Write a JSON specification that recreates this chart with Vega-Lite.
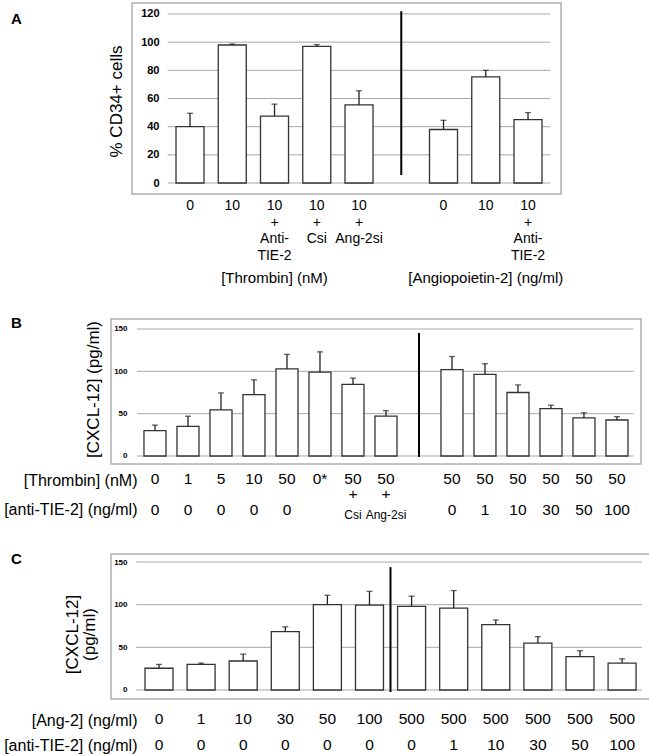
{
  "$schema": "https://vega.github.io/schema/vega-lite/v6.json",
  "background": "white",
  "padding": {"left": 2, "top": 2, "right": 0, "bottom": 0},
  "spacing": 30,
  "config": {
    "font": "Liberation Sans",
    "view": {"stroke": "#b0b0b0", "strokeWidth": 1.5},
    "axis": {"labelColor": "#000", "titleColor": "#000", "grid": false, "domain": false, "ticks": false, "tickSize": 0, "labelAngle": 0, "labelOverlap": false, "labelLimit": 400, "titleFontWeight": "normal", "labelFont": "Liberation Sans", "titleFont": "Liberation Sans"},
    "title": {"color": "#000"}
  },
  "vconcat": [
    {
      "width": 450, "height": 191,
      "view": {"stroke": null},
      "title": {"text": "A", "anchor": "start", "frame": "group", "orient": "top", "offset": 0, "dx": -100, "dy": 37, "baseline": "alphabetic", "fontSize": 15, "fontWeight": "bold", "font": "Liberation Sans"},
      "data": {"values": [
        {"k": "A0|0|", "v": 40, "hi": 49.5},
        {"k": "A1|10|", "v": 98, "hi": 98.7},
        {"k": "A2|10~+~Anti-~TIE-2|[Thrombin] (nM)", "v": 47.5, "hi": 56},
        {"k": "A3|10~+~Csi|", "v": 97, "hi": 98.3},
        {"k": "A4|10~+~Ang-2si|", "v": 55.5, "hi": 65.5},
        {"k": "A5||", "d1": 5.7, "d2": 122},
        {"k": "A6|0|", "v": 38, "hi": 44.5},
        {"k": "A7|10|[Angiopoietin-2] (ng/ml)", "v": 75.3, "hi": 80},
        {"k": "A8|10~+~Anti-~TIE-2|", "v": 45, "hi": 50}
      ]},
      "resolve": {"axis": {"x": "independent"}},
      "layer": [
        {
          "data": {"values": [{"g": 0}, {"g": 20}, {"g": 40}, {"g": 60}, {"g": 80}, {"g": 100}, {"g": 120}]},
          "mark": {"type": "rule", "color": "#a8a8a8", "strokeWidth": 1},
          "encoding": {
            "x": {"datum": "A0|0|", "type": "nominal", "bandPosition": -0.3, "axis": null},
            "x2": {"datum": "A8|10~+~Anti-~TIE-2|", "bandPosition": 1.3},
            "y": {"field": "g", "type": "quantitative", "scale": {"domain": [-7.81, 127.81], "nice": false, "zero": false},
              "axis": {"orient": "left", "values": [0, 20, 40, 60, 80, 100, 120], "tickCount": 10, "labelOverlap": false, "offset": -57, "labelPadding": 9, "labelFontSize": 11, "labelFontWeight": "bold", "title": "% CD34+ cells", "titleFontSize": 17, "titleX": -52, "titleY": 98, "titleAngle": -90, "titleAlign": "center", "titleBaseline": "middle"}}
          }
        },
        {
          "data": {"values": [{"box": "A"}]},
          "mark": {"type": "rect", "filled": false, "fill": null, "stroke": "#b0b0b0", "strokeWidth": 1.5},
          "encoding": {
            "x": {"datum": "A0|0|", "type": "nominal", "bandPosition": -1.571, "axis": null},
            "x2": {"datum": "A8|10~+~Anti-~TIE-2|", "bandPosition": 1.679},
            "y": {"datum": 127.81, "type": "quantitative"},
            "y2": {"datum": -7.81}
          }
        },
        {
          "mark": {"type": "bar", "fill": "white", "stroke": "#333", "strokeWidth": 1.3},
          "encoding": {
            "x": {"field": "k", "type": "nominal", "scale": {"paddingInner": 0.337, "paddingOuter": 0.994, "align": 0.774},
              "axis": {"orient": "bottom", "labelExpr": "split(split(datum.label,'|')[1],'~')", "labelFontSize": 14, "labelLineHeight": 16.7, "labelPadding": 4.5, "labelBaseline": "top", "title": null}},
            "y": {"field": "v", "type": "quantitative"}
          }
        },
        {
          "mark": {"type": "rule", "color": "#222", "strokeWidth": 1.3},
          "encoding": {
            "x": {"field": "k", "type": "nominal",
              "axis": {"orient": "bottom", "labelExpr": "split(datum.label,'|')[2]", "labelFontSize": 15, "labelPadding": 76, "labelBaseline": "top", "title": null}},
            "y": {"field": "v", "type": "quantitative"},
            "y2": {"field": "hi"}
          }
        },
        {
          "mark": {"type": "tick", "color": "#222", "size": 6, "thickness": 1.3, "orient": "horizontal"},
          "encoding": {
            "x": {"field": "k", "type": "nominal", "axis": null},
            "y": {"field": "hi", "type": "quantitative"}
          }
        },
        {
          "transform": [{"filter": "isValid(datum.d1)"}],
          "mark": {"type": "rule", "color": "#000", "strokeWidth": 2},
          "encoding": {
            "x": {"field": "k", "type": "nominal", "axis": null},
            "y": {"field": "d1", "type": "quantitative"},
            "y2": {"field": "d2"}
          }
        }
      ]
    },
    {
      "width": 530, "height": 145,
      "title": {"text": "B", "anchor": "start", "frame": "group", "orient": "top", "offset": 0, "dx": -100, "dy": 24, "baseline": "alphabetic", "fontSize": 15, "fontWeight": "bold", "font": "Liberation Sans"},
      "data": {"values": [
        {"k": "B00|0|0", "v": 30, "hi": 36.5},
        {"k": "B01|1|0", "v": 35, "hi": 47},
        {"k": "B02|5|0", "v": 54.5, "hi": 74.5},
        {"k": "B03|10|0", "v": 72.5, "hi": 90},
        {"k": "B04|50|0", "v": 103, "hi": 120},
        {"k": "B05|0*|", "v": 99, "hi": 123},
        {"k": "B06|50~+|Csi", "v": 84.5, "hi": 92},
        {"k": "B07|50~+|Ang-2si", "v": 47, "hi": 53.5},
        {"k": "B08||", "d1": -1.2, "d2": 145.3},
        {"k": "B09|50|0", "v": 102, "hi": 117.5},
        {"k": "B10|50|1", "v": 96.5, "hi": 109},
        {"k": "B11|50|10", "v": 75, "hi": 84},
        {"k": "B12|50|30", "v": 56, "hi": 60},
        {"k": "B13|50|50", "v": 45, "hi": 51},
        {"k": "B14|50|100", "v": 42.5, "hi": 46.5}
      ]},
      "resolve": {"axis": {"x": "independent"}},
      "layer": [
        {
          "data": {"values": [{"g": 0}, {"g": 50}, {"g": 100}, {"g": 150}]},
          "mark": {"type": "rule", "color": "#a8a8a8", "strokeWidth": 1},
          "encoding": {
            "x": {"datum": "B00|0|0", "type": "nominal", "bandPosition": -0.32, "axis": null},
            "x2": {"datum": "B14|50|100", "bandPosition": 1.25},
            "y": {"field": "g", "type": "quantitative", "scale": {"domain": [-9.45, 161.81], "nice": false, "zero": false},
              "axis": {"orient": "left", "values": [0, 50, 100, 150], "tickCount": 10, "labelOverlap": false, "offset": -26, "labelPadding": 10, "labelFontSize": 8, "labelFontWeight": "bold", "title": "[CXCL-12] (pg/ml)", "titleFontSize": 17, "titleX": -44, "titleY": 70, "titleAngle": -90, "titleAlign": "center", "titleBaseline": "middle"}}
          }
        },
        {
          "mark": {"type": "bar", "fill": "white", "stroke": "#333", "strokeWidth": 1.3},
          "encoding": {
            "x": {"field": "k", "type": "nominal", "scale": {"paddingInner": 0.333, "paddingOuter": 0.697, "align": 0.717},
              "axis": {"orient": "bottom", "labelExpr": "split(split(datum.label,'|')[1],'~')", "labelFontSize": 15.5, "labelLineHeight": 14.5, "labelPadding": 7.5, "labelBaseline": "top",
                "title": "[Thrombin] (nM)", "titleFontSize": 16, "titleX": 26, "titleY": 16, "titleAlign": "right", "titleBaseline": "middle", "titleAngle": 0}},
            "y": {"field": "v", "type": "quantitative"}
          }
        },
        {
          "mark": {"type": "rule", "color": "#222", "strokeWidth": 1.3},
          "encoding": {
            "x": {"field": "k", "type": "nominal",
              "axis": {"orient": "bottom", "labelExpr": "split(datum.label,'|')[2]", "labelFontSize": {"condition": {"test": "indexof(datum.value,'si') >= 0", "value": 12}, "value": 15.5}, "labelBaseline": {"condition": {"test": "indexof(datum.value,'si') >= 0", "value": "top"}, "value": "middle"}, "labelPadding": 45,
                "title": "[anti-TIE-2] (ng/ml)", "titleFontSize": 16, "titleX": 26, "titleY": 45, "titleAlign": "right", "titleBaseline": "middle", "titleAngle": 0}},
            "y": {"field": "v", "type": "quantitative"},
            "y2": {"field": "hi"}
          }
        },
        {
          "mark": {"type": "tick", "color": "#222", "size": 6, "thickness": 1.3, "orient": "horizontal"},
          "encoding": {
            "x": {"field": "k", "type": "nominal", "axis": null},
            "y": {"field": "hi", "type": "quantitative"}
          }
        },
        {
          "transform": [{"filter": "isValid(datum.d1)"}],
          "mark": {"type": "rule", "color": "#000", "strokeWidth": 2},
          "encoding": {
            "x": {"field": "k", "type": "nominal", "axis": null},
            "y": {"field": "d1", "type": "quantitative"},
            "y2": {"field": "d2"}
          }
        }
      ]
    },
    {
      "width": 540, "height": 145,
      "title": {"text": "C", "anchor": "start", "frame": "group", "orient": "top", "offset": 0, "dx": -100, "dy": 25, "baseline": "alphabetic", "fontSize": 15, "fontWeight": "bold", "font": "Liberation Sans"},
      "data": {"values": [
        {"k": "C00|0|0", "v": 25.5, "hi": 30},
        {"k": "C01|1|0", "v": 30, "hi": 31.5},
        {"k": "C02|10|0", "v": 34, "hi": 42},
        {"k": "C03|30|0", "v": 68.5, "hi": 74},
        {"k": "C04|50|0", "v": 100, "hi": 111},
        {"k": "C05|100|0", "v": 99.5, "hi": 115.5, "d1": -2.3, "d2": 144},
        {"k": "C06|500|0", "v": 98, "hi": 110},
        {"k": "C07|500|1", "v": 96, "hi": 116.5},
        {"k": "C08|500|10", "v": 76.5, "hi": 82},
        {"k": "C09|500|30", "v": 55, "hi": 62.5},
        {"k": "C10|500|50", "v": 39, "hi": 46},
        {"k": "C11|500|100", "v": 31.5, "hi": 36.5}
      ]},
      "resolve": {"axis": {"x": "independent"}},
      "layer": [
        {
          "data": {"values": [{"g": 0}, {"g": 50}, {"g": 100}, {"g": 150}]},
          "mark": {"type": "rule", "color": "#a8a8a8", "strokeWidth": 1},
          "encoding": {
            "x": {"datum": "C00|0|0", "type": "nominal", "bandPosition": -0.32, "axis": null},
            "x2": {"datum": "C11|500|100", "bandPosition": 1.21},
            "y": {"field": "g", "type": "quantitative", "scale": {"domain": [-10.55, 159.38], "nice": false, "zero": false},
              "axis": {"orient": "left", "values": [0, 50, 100, 150], "tickCount": 10, "labelOverlap": false, "offset": -25, "labelPadding": 9, "labelFontSize": 8, "labelFontWeight": "bold", "title": ["[CXCL-12]", "(pg/ml)"], "titleFontSize": 17, "titleLineHeight": 17, "titleX": -64, "titleY": 80, "titleAngle": -90, "titleAlign": "center", "titleBaseline": "middle"}}
          }
        },
        {
          "mark": {"type": "bar", "fill": "white", "stroke": "#333", "strokeWidth": 1.3},
          "encoding": {
            "x": {"field": "k", "type": "nominal", "scale": {"paddingInner": 0.335, "paddingOuter": 0.581, "align": 0.695},
              "axis": {"orient": "bottom", "labelExpr": "split(datum.label,'|')[1]", "labelFontSize": 15.5, "labelPadding": 12.5, "labelBaseline": "top",
                "title": "[Ang-2] (ng/ml)", "titleFontSize": 16, "titleX": 26, "titleY": 21, "titleAlign": "right", "titleBaseline": "middle", "titleAngle": 0}},
            "y": {"field": "v", "type": "quantitative"}
          }
        },
        {
          "mark": {"type": "rule", "color": "#222", "strokeWidth": 1.3},
          "encoding": {
            "x": {"field": "k", "type": "nominal",
              "axis": {"orient": "bottom", "labelExpr": "split(datum.label,'|')[2]", "labelFontSize": 15.5, "labelPadding": 38, "labelBaseline": "top",
                "title": "[anti-TIE-2] (ng/ml)", "titleFontSize": 16, "titleX": 26, "titleY": 46.5, "titleAlign": "right", "titleBaseline": "middle", "titleAngle": 0}},
            "y": {"field": "v", "type": "quantitative"},
            "y2": {"field": "hi"}
          }
        },
        {
          "mark": {"type": "tick", "color": "#222", "size": 6, "thickness": 1.3, "orient": "horizontal"},
          "encoding": {
            "x": {"field": "k", "type": "nominal", "axis": null},
            "y": {"field": "hi", "type": "quantitative"}
          }
        },
        {
          "transform": [{"filter": "isValid(datum.d1)"}],
          "mark": {"type": "rule", "color": "#000", "strokeWidth": 2},
          "encoding": {
            "x": {"field": "k", "type": "nominal", "bandPosition": 1.25, "axis": null},
            "y": {"field": "d1", "type": "quantitative"},
            "y2": {"field": "d2"}
          }
        }
      ]
    }
  ]
}
